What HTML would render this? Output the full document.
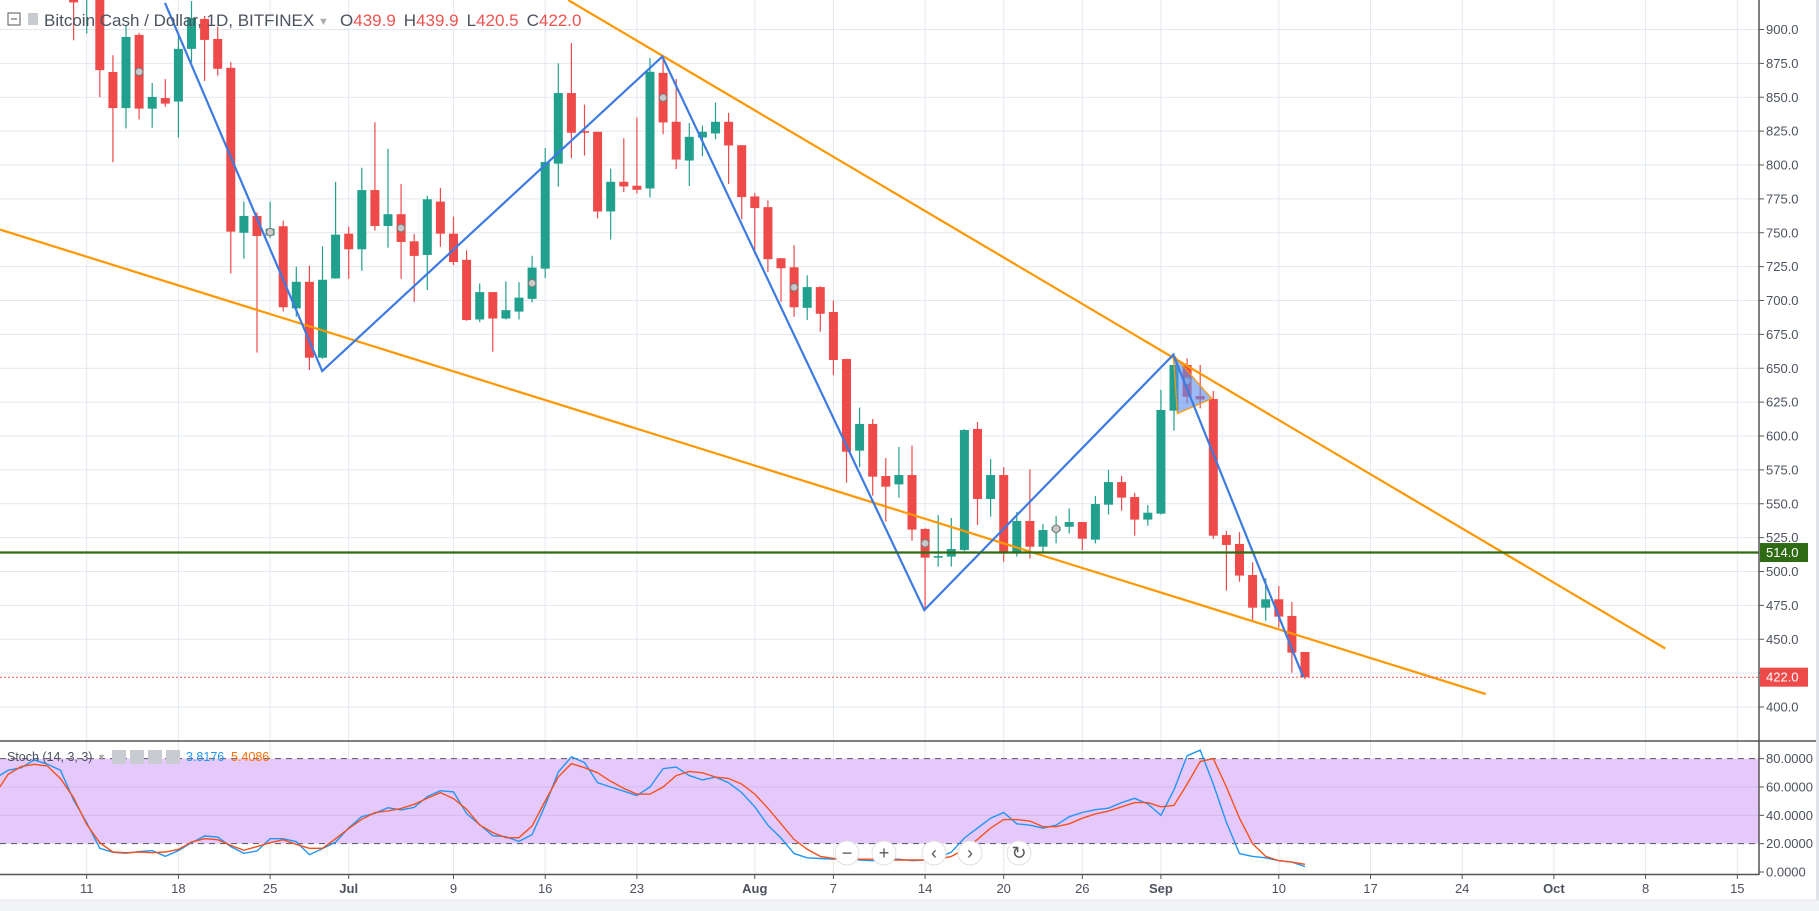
<!DOCTYPE html>
<html><head><meta charset="utf-8">
<style>
html,body{margin:0;padding:0;background:#fff;}
svg{display:block;font-family:"Liberation Sans",sans-serif;}
</style></head>
<body>
<svg id="chart" width="1819" height="911" viewBox="0 0 1819 911" xmlns="http://www.w3.org/2000/svg">
  <rect x="0" y="0" width="1819" height="911" fill="#ffffff"/>
  <defs>
    <clipPath id="mainClip"><rect x="0" y="0" width="1759" height="741"/></clipPath>
    <clipPath id="stochClip"><rect x="0" y="742" width="1759" height="132"/></clipPath>
  </defs>
  <g id="grid"></g>
  <rect id="stochBand" x="0" width="1759" fill="#e6c9fc"/>
  <g id="stochGrid"></g>
  <g id="candles" clip-path="url(#mainClip)"></g>
  <g id="drawings" clip-path="url(#mainClip)"></g>
  <g id="stoch" clip-path="url(#stochClip)"></g>
  <g id="axes"></g>
  <g font-size="17">
    <rect x="8" y="13" width="12" height="12" fill="none" stroke="#555" stroke-width="1"/>
    <line x1="11" y1="19" x2="17" y2="19" stroke="#555"/>
    <rect x="28" y="13" width="10" height="12" fill="#c8ccd0"/>
    <text x="44" y="26" fill="#4c525e">Bitcoin Cash / Dollar, 1D, BITFINEX</text>
    <text x="318" y="25" fill="#aaa" font-size="11">▼</text>
    <text x="340" y="26"><tspan fill="#4c525e">O</tspan><tspan fill="#ef5350">439.9</tspan><tspan fill="#4c525e" dx="8">H</tspan><tspan fill="#ef5350">439.9</tspan><tspan fill="#4c525e" dx="8">L</tspan><tspan fill="#ef5350">420.5</tspan><tspan fill="#4c525e" dx="8">C</tspan><tspan fill="#ef5350">422.0</tspan></text>
  </g>
  <g font-size="12.5">
    <text x="7" y="761" fill="#4c525e">Stoch (14, 3, 3)</text>
    <text x="97" y="760" fill="#aaa" font-size="9">▼</text>
    <rect x="112" y="750" width="14" height="14" fill="#c8ccd0"/>
    <rect x="130" y="750" width="14" height="14" fill="#c8ccd0"/>
    <rect x="148" y="750" width="14" height="14" fill="#c8ccd0"/>
    <rect x="166" y="750" width="14" height="14" fill="#c8ccd0"/>
    <text x="186" y="761" fill="#2196f3">3.8176</text>
    <text x="231" y="761" fill="#ff6d00">5.4086</text>
  </g>
  <g id="nav"></g>
  <rect x="1816" y="0" width="3" height="911" fill="#e0e3e8"/>
  <rect x="0" y="900" width="1819" height="11" fill="#f3f4f6"/>
  <line x1="0" y1="900" x2="1819" y2="900" stroke="#e0e3e8"/>
</svg>
<script>
// ---- data (day index 0 = Jun 10) ----
var opens  = [950,925,925,868.6,842,896,841.6,849.4,846.8,885.7,907.8,893,871.7,750,762.4,748,754.8,694.2,713.8,657.8,716.3,
 749.3,737.8,781.5,755,763.7,743.7,733.6,773,749.3,730,686,706.2,686.7,691.8,701.2,723.5,801,853.1,825,824.5,765.7,787.6,784.7,782.7,868,831.9,803.3,820.3,823.3,831.9,814.6,
 776.8,768.9,731.2,724.5,694.6,709.9,691.5,656.8,589.2,608.9,570.5,564.3,571.2,531.4,510.2,511,515.9,605.2,553.5,571.2,513.2,537.3,518.3,530,533,536.5,523.5,549.3,566,555,538.3,
 542.7,618.7,652.4,629.5,627.3,526.9,520.3,497.4,473.3,479.5,467.2,440.6];
var highs  = [960,950,935,881,903,897.5,860.5,863.4,897.5,921,910,902,875.9,773,765,773,758.9,725,725.7,740,787.6,
 754.5,798,831.5,812,786,749,777.3,783,762,737,712.6,706.2,714,713.5,733,812.5,875,890,844.6,824.5,797.3,819.8,835,878.9,878.2,863.5,831,829,846,838.5,814.6,
 779.3,774,731.2,740.8,718.6,710.5,700,657,621,612.5,583.8,591.9,593,532,541.7,539.5,605,610.3,583,577,544,575.4,535,541,546.6,536.5,555.7,575,570.5,558,549,
 634,661,657.3,652.4,633.2,529.9,529,506.8,495,489.3,477.5,440.6];
var lows   = [892,897,850,802,827,833.6,827.5,842.9,820.3,876,862,866,720,731,661.5,746,692,688,648.7,657,716,
 716,722,751.6,739,716,699,707.7,739.6,726,685,684,662.2,686,686,698.6,716.5,784,805,807,760.6,745,780,779,776,822.7,797,784.5,806.5,819,786,760,
 734,721,699,688,685.7,677,645,565.6,577,556,536.8,554.5,522.8,471.6,503.6,503.6,515,534.3,540.5,507.3,511,509.5,513.4,520.8,528,515.9,520.8,542,544.9,526.4,533.8,
 542,604,624,620.4,524,485.9,492.5,463.7,463.7,458.5,425.3,420.5];
var closes = [920,940,870,842,894.5,841.6,850.2,845.3,885.7,908.5,892.3,871,750.8,762.4,747.6,753,695,713.8,657.8,715.3,748.6,
 737.8,781.5,755,763.7,743.2,732.9,774.7,749.3,728.4,685.6,706.2,686.7,692.9,702.1,724.3,802.2,853.1,823.8,823.8,765.7,787.6,784.2,781.7,868.8,831.4,804,820.8,824.5,831.9,814.4,776.3,
 768.2,730.5,723.8,695,709.9,690.2,656.1,588.4,608.9,570,562.6,571.2,530.9,510.2,511.4,516.6,604.4,553.5,571.2,513.2,537.3,518.3,530.6,533,536.5,524.2,549.8,566,554.5,538.3,543.4,
 619.2,652.4,629,627,526.4,519.6,497,473.3,479.5,466.7,440.1,422];
// stochastic, day index -6 .. 94
var stochK = [66,71.8,73.6,79.1,76,71.8,50.8,34.8,16.7,13.9,13.2,14.4,15.1,11.1,15.1,20.7,25.4,24.7,17.9,13.2,14.8,23.5,23.5,21.4,12.2,16.5,21.2,31.1,39.1,41.4,45.4,43.8,45.6,53.2,57.4,56.5,41.2,33.4,25.6,24.9,21.6,26.4,47.1,70.6,81.2,77.2,
 63,60,57,54,60,73,74,68,65,67,63,56,46,33,24,13,10,9.5,9,10,8.5,8,9,9,8,8.5,10,14,24,31,38,42,34,33,31,33,39,42,44,45,49,52,48,40,58,82,86,62,35,13,11,10,8,7,3.8];
var stochD = [55,68.9,74.4,76,74.8,65.9,52.5,33.6,20.7,14.1,13.6,14.1,13.6,14.1,16,21.2,23.5,22.8,18.8,15.3,17.9,20.7,22.8,19.5,16.7,16.7,23.5,30.6,37.2,41.9,43.1,44.9,47.8,52,56,51.8,44.3,33.2,27.8,24.2,24.2,32.5,50.1,67.1,76.5,73.6,
 70,64,59,55,55,60,68,71,70,67,66,62,55,45,34,23,16,11,9.5,9.5,9,9,8.5,8.5,8.5,8.5,9,11,16,23,31,37,37,36,32,32,34,38,41,43,46,49,49,46,47,62,78,80,60,38,20,11,8,7,5.4];
var stochStart = -6;
var priceTicks = [400,425,450,475,500,525,550,575,600,625,650,675,700,725,750,775,800,825,850,875,900];
var stochTicks = [0,20,40,60,80];
var stochTickLabels = ["0.0000","20.0000","40.0000","60.0000","80.0000"];
var dateTicks = [1,8,15,21,29,36,43,52,58,65,71,77,83,92,99,106,113,120,127];
var dateLabels = ["11","18","25","Jul","9","16","23","Aug","7","14","20","26","Sep","10","17","24","Oct","8","15"];
var zigzag = [[6.98,919.6],[18.98,648],[44.94,880],[64.94,471.5],[83.95,660],[93.87,422]];
var lowerTrend = [[-5.62,752.3],[107.8,409.5]];
var upperTrend = [[37.75,921.8],[121.5,443.2]];
var triangle = [[83.95,660],[86.88,627.5],[84.25,616.5]];
var supportLevel = 514.0;
var lastPrice = 422.0;

// ---- axis functions ----
function xDay(i){ return 86.7 + 13.1*(i-1); }
function yPrice(p){ return 707 - (p-400)*1.355; }
function yStoch(v){ return 872 - v*1.417; }

var NS = "http://www.w3.org/2000/svg";
function mk(tag, parent, attrs){
  var e = document.createElementNS(NS, tag);
  for (var k in attrs) e.setAttribute(k, attrs[k]);
  parent.appendChild(e); return e;
}
var grid = document.getElementById('grid');
var stochGrid = document.getElementById('stochGrid');
var axes = document.getElementById('axes');
var candlesG = document.getElementById('candles');
var draw = document.getElementById('drawings');
var stochG = document.getElementById('stoch');

// grid
priceTicks.forEach(function(p){
  var l = mk('line', grid, {x1:0, x2:1759, y1:yPrice(p), y2:yPrice(p), stroke:'#e3e9ef', 'stroke-width':1});
  
  
});
dateTicks.forEach(function(d){
  var l = mk('line', grid, {x1:xDay(d), x2:xDay(d), y1:0, y2:874, stroke:'#e3e9ef', 'stroke-width':1});
  
  
});
// stoch band
var band = document.getElementById('stochBand');
band.setAttribute('y', yStoch(80));
band.setAttribute('height', yStoch(20)-yStoch(80));
[40,60].forEach(function(v){
  var l = mk('line', stochGrid, {x1:0, x2:1759, y1:yStoch(v), y2:yStoch(v), stroke:'#d3b8f0', 'stroke-width':1});
  
  
});
[20,80].forEach(function(v){
  var l = mk('line', stochGrid, {x1:0, x2:1759, y1:yStoch(v), y2:yStoch(v), stroke:'#555', 'stroke-width':1, 'stroke-dasharray':'6,5'});
  
  
});

// candles
function drawCandles(){
  for (var i=0;i<opens.length;i++){
    var o=opens[i], h=highs[i], lo=lows[i], c=closes[i];
    var col = c>=o ? '#22a08e' : '#ef4a4a';
    var cx = xDay(i);
    var g = mk('g', candlesG, {});
    
    
    mk('line', g, {x1:cx, x2:cx, y1:yPrice(h), y2:yPrice(lo), stroke:col, 'stroke-width':1.2});
    var bTop = yPrice(Math.max(o,c)), bBot = yPrice(Math.min(o,c));
    mk('rect', g, {x:cx-4.5, y:bTop, width:9, height:Math.max(1.5, bBot-bTop), fill:col});
    if (i>=5 && (i-5)%10===0){
      var dot = mk('circle', g, {cx:cx, cy:yPrice((o+c)/2), r:3.8, fill:'#c8c8c8', stroke:'#777', 'stroke-width':1});
      
      
    }
  }
}
drawCandles();

function pts(arr){ return arr.map(function(p){ return xDay(p[0]).toFixed(1)+','+yPrice(p[1]).toFixed(1); }).join(' '); }
// trend lines
var lt = mk('polyline', draw, {points:pts(lowerTrend), fill:'none', stroke:'#ff9800', 'stroke-width':2.2});


var ut = mk('polyline', draw, {points:pts(upperTrend), fill:'none', stroke:'#ff9800', 'stroke-width':2.2});


var tri = mk('polygon', draw, {points:pts(triangle), fill:'rgba(90,140,240,0.6)', stroke:'#ff9800', 'stroke-width':1.2});


var zz = mk('polyline', draw, {points:pts(zigzag), fill:'none', stroke:'#3d7be0', 'stroke-width':2.2});


var sl = mk('line', draw, {x1:0, x2:1759, y1:yPrice(supportLevel), y2:yPrice(supportLevel), stroke:'#2e6b14', 'stroke-width':2.2});


var lp = mk('line', draw, {x1:0, x2:1759, y1:yPrice(lastPrice), y2:yPrice(lastPrice), stroke:'#ef5350', 'stroke-width':1, 'stroke-dasharray':'2,2'});



// stochastic lines
function stochPts(arr){ return arr.map(function(v,k){ return xDay(stochStart+k).toFixed(1)+','+yStoch(v).toFixed(1); }).join(' '); }
var kl = mk('polyline', stochG, {points:stochPts(stochK), fill:'none', stroke:'#2196f3', 'stroke-width':1.4});


var dl = mk('polyline', stochG, {points:stochPts(stochD), fill:'none', stroke:'#f4511e', 'stroke-width':1.4});



// axes
var a1 = mk('line', axes, {x1:1759, x2:1759, y1:0, y2:875, stroke:'#555', 'stroke-width':1.5});


var a2 = mk('line', axes, {x1:0, x2:1816, y1:741, y2:741, stroke:'#555', 'stroke-width':1.5});


var a3 = mk('line', axes, {x1:0, x2:1759, y1:874.5, y2:874.5, stroke:'#555', 'stroke-width':1.5});


priceTicks.forEach(function(p){
  var y = yPrice(p);
  var t = mk('line', axes, {x1:1759, x2:1764, y1:y, y2:y, stroke:'#555'});
  
  
  var tx = mk('text', axes, {x:1766, y:y+4.5, 'font-size':13, fill:'#4c525e'});
  
  
  tx.textContent = p.toFixed(1);
});
stochTicks.forEach(function(v,k){
  var y = yStoch(v);
  var t = mk('line', axes, {x1:1759, x2:1764, y1:y, y2:y, stroke:'#555'});
  
  
  var tx = mk('text', axes, {x:1766, y:y+4.5, 'font-size':13, fill:'#4c525e'});
  
  
  tx.textContent = stochTickLabels[k];
});
dateTicks.forEach(function(d,k){
  var dx = xDay(d);
  var t = mk('line', axes, {x1:dx, x2:dx, y1:874, y2:879, stroke:'#555'});
  
  
  var lbl = dateLabels[k];
  var bold = isNaN(parseInt(lbl));
  var tx = mk('text', axes, {x:dx, y:893, 'font-size':13, fill:'#4c525e', 'text-anchor':'middle', 'font-weight':bold?'bold':'normal'});
  
  
  tx.textContent = lbl;
});
// price labels
function priceTag(p, col, name){
  var y = yPrice(p);
  var r = mk('rect', axes, {x:1760, y:y-9.5, width:48, height:19, fill:col});
  
  
  var tx = mk('text', axes, {x:1766, y:y+4.5, 'font-size':13, fill:'#fff'});
  
  
  tx.textContent = p.toFixed(1);
}
priceTag(supportLevel, '#2e6b14', 'support-price-label');
priceTag(lastPrice, '#ef4a4a', 'last-price-label');

// navigation buttons
var nav = document.getElementById('nav');
var navBtns = [[847,'−','zoom-out-button'],[884,'+','zoom-in-button'],[934,'‹','scroll-left-button'],[970,'›','scroll-right-button'],[1019,'↻','reset-button']];
navBtns.forEach(function(b){
  var g = mk('g', nav, {});
  
  
  mk('circle', g, {cx:b[0], cy:853, r:12, fill:'#fff', stroke:'#e0e0e0'});
  var t = mk('text', g, {x:b[0], y:859, 'font-size':18, fill:'#555', 'text-anchor':'middle'});
  t.textContent = b[1];
});
</script>
</body></html>
